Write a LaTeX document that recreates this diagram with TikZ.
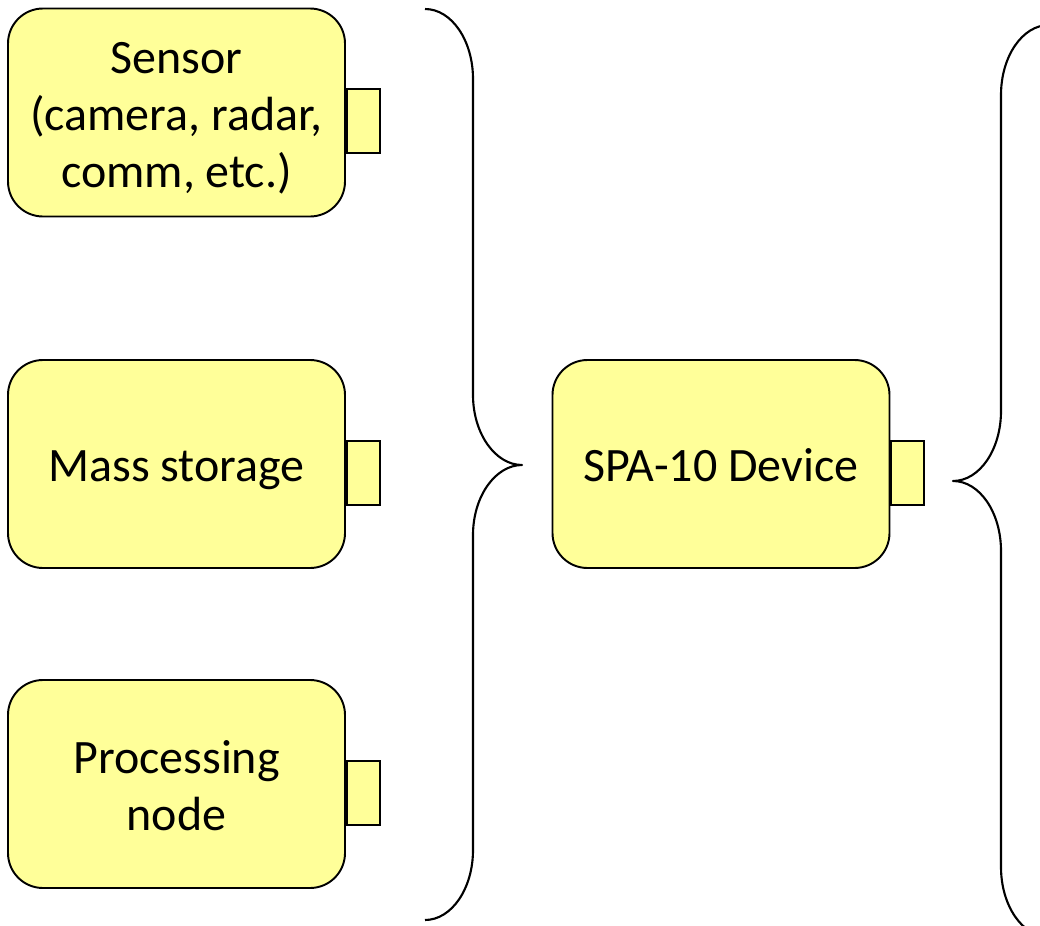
\documentclass[tikz,border=0pt]{standalone}
\usepackage{fontspec}
\setmainfont{Carlito}
% centred block label, lowered slightly (box size kept) so the capitals sit in the middle
\newcommand{\blocktext}[1]{\raisebox{-1.3mm}[\height][\depth]{\begin{tabular}{@{}c@{}}#1\end{tabular}}}
\begin{document}
\begin{tikzpicture}[x=0.2mm, y=-0.2mm,
  unitbox/.style={draw=black, line width=1.1pt, fill=boxyellow,
    rounded corners=7mm, minimum width=67.4mm, minimum height=41.6mm,
    inner sep=0pt,
    font=\fontsize{27.3}{32.5}\selectfont},
  porttab/.style={draw=black, line width=1.1pt, fill=boxyellow,
    minimum width=6.6mm, minimum height=12.8mm, inner sep=0pt, anchor=west},
  bracket/.style={draw=black, line width=1.2pt, line join=round}]
\definecolor{boxyellow}{RGB}{255,255,153}
\useasboundingbox (0,0) rectangle (1040,926);

% device blocks on the left
\node[unitbox] (sensor) at (176.5,112.5) {\blocktext{Sensor\\(camera, radar,\\comm, etc.)}};
\node[unitbox] (storage) at (176.5,464) {\blocktext{Mass storage}};
\node[unitbox] (proc) at (176.5,784) {\blocktext{Processing\\node}};
% central device
\node[unitbox] (spa) at (721,464) {\blocktext{SPA-10 Device}};

% connector tabs on the right side of each block
\node[porttab] (sensortab) at ([yshift=-1.7mm]sensor.east) {};
\node[porttab] (storagetab) at ([yshift=-1.8mm]storage.east) {};
\node[porttab] (proctab) at ([yshift=-1.8mm]proc.east) {};
\node[porttab] (spatab) at ([yshift=-1.8mm]spa.east) {};

% closing brace grouping the left blocks
\coordinate (ltip) at (522,465);
\draw[bracket] (425,9) .. controls (451.5,9) and (473,40.3) .. (473,79)
  -- (473,395) .. controls (473,433.7) and (495.5,465) .. (ltip)
  .. controls (495.5,465) and (473,496.3) .. (473,535)
  -- (473,850) .. controls (473,888.7) and (451.5,920) .. (425,920);

% opening brace on the right
\begin{scope}
\clip (0,0) rectangle (1040,926);
\coordinate (rtip) at (953,481);
\draw[bracket] (1049,25) .. controls (1022.5,25) and (1001,56.3) .. (1001,95)
  -- (1001,411) .. controls (1001,449.7) and (979.5,481) .. (rtip)
  .. controls (979.5,481) and (1001,512.3) .. (1001,551)
  -- (1001,867) .. controls (1001,905.7) and (1022.5,937) .. (1049,937);
\end{scope}
\end{tikzpicture}
\end{document}
